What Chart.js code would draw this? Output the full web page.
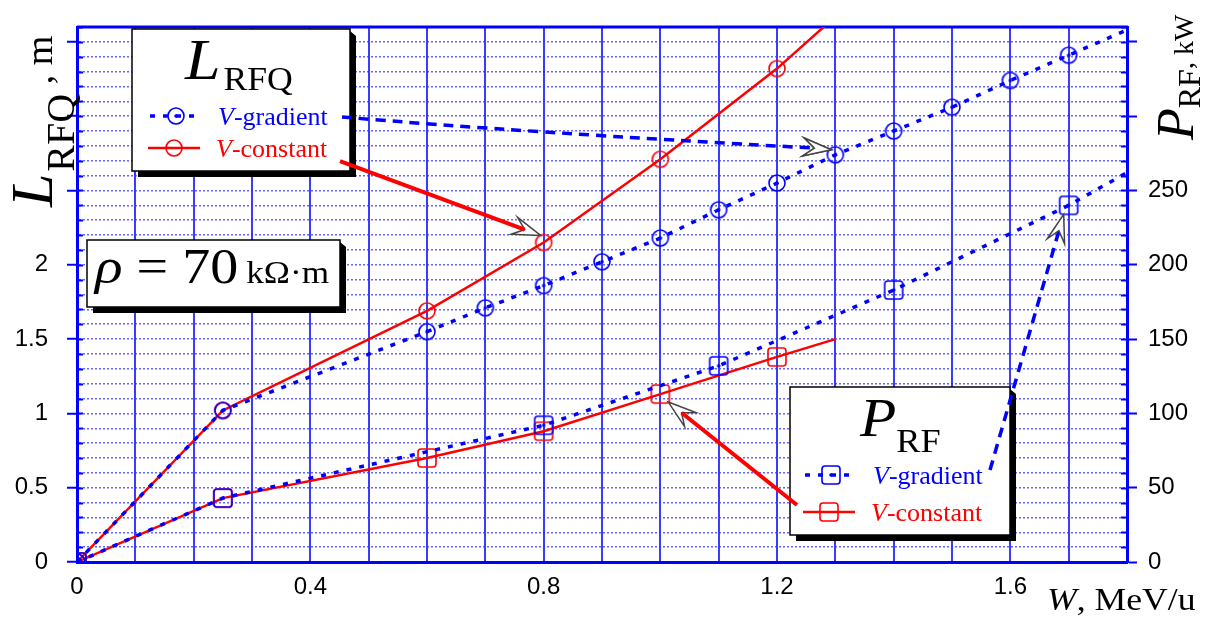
<!DOCTYPE html>
<html lang="en">
<head>
<meta charset="UTF-8">
<title>L_RFQ and P_RF vs W</title>
<script src="https://cdn.jsdelivr.net/npm/chart.js"></script>
<style>
  html, body { margin: 0; padding: 0; background: #fff; }
  #wrap { width: 1212px; height: 626px; position: relative; }
</style>
</head>
<body>
<div id="wrap"><canvas id="myChart"></canvas></div>
<script>
// W, MeV/u  ->  L_RFQ (m) and P_RF (kW)
// the last point of each series only carries the line on, it has no marker
const wLGrad  = [0, 0.25, 0.6, 0.7, 0.8, 0.9, 1.0, 1.1, 1.2, 1.3, 1.4, 1.5, 1.6, 1.7, 1.8];
const lGrad   = [0, 1.02, 1.55, 1.71, 1.86, 2.02, 2.18, 2.37, 2.55, 2.74, 2.90, 3.06, 3.24, 3.41, 3.58];
const wLConst = [0, 0.25, 0.6, 0.8, 1.0, 1.2, 1.3];
const lConst  = [0, 1.02, 1.69, 2.15, 2.71, 3.32, 3.67];
const wPGrad  = [0, 0.25, 0.8, 1.1, 1.4, 1.7, 1.8];
const pGrad   = [0, 43, 92, 132, 183, 240, 262];
const wPConst = [0, 0.25, 0.6, 0.8, 1.0, 1.2, 1.3];
const pConst  = [0, 43, 70, 88, 113, 138, 150];

// tick labels
const xTickVals  = [0, 0.4, 0.8, 1.2, 1.6];
const xTickText  = ['0', '0.4', '0.8', '1.2', '1.6'];
const yTickVals  = [0, 0.5, 1, 1.5, 2];
const yTickText  = ['0', '0.5', '1', '1.5', '2'];
const y2TickVals = [0, 50, 100, 150, 200, 250];
const y2TickText = ['0', '50', '100', '150', '200', '250'];

const BLUE = '#0000ff';
const RED = '#ff0000';
const SERIF = '"Liberation Serif", "Times New Roman", serif';
const SANS = '"Liberation Sans", Arial, sans-serif';

function pts(xs, ys) { return xs.map((x, i) => ({ x: x, y: ys[i] })); }
function radii(xs) { return xs.map((x, i) => i === xs.length - 1 ? 0 : 8); }
function near(list, v) { return list.findIndex(t => Math.abs(t - v) < 1e-6); }
function steps(max, step) {
    const out = [];
    for (let i = 0; i * step <= max + 1e-9; i++) out.push({ value: Math.round(i * step * 1000) / 1000 });
    return out;
}
// fixed axis sizes so the plot area sits where it does in the figure
function fixSize(prop, size) {
    return s => {
        s[prop] = size;
        s.paddingTop = 0; s.paddingBottom = 0; s.paddingLeft = 0; s.paddingRight = 0;
    };
}

// marker pictures: circle / square, with a centre dot for the V-gradient curves
function marker(shape, color, dot) {
    const c = document.createElement('canvas');
    c.width = 24; c.height = 24;
    const g = c.getContext('2d');
    g.strokeStyle = color;
    g.lineWidth = 1.6;
    g.beginPath();
    if (shape === 'circle') g.arc(12, 12, 8, 0, Math.PI * 2);
    else g.roundRect(3, 3, 18, 18, 3);
    g.stroke();
    if (dot) {
        g.fillStyle = color;
        g.beginPath(); g.arc(12, 12, 1.8, 0, Math.PI * 2); g.fill();
    }
    return c;
}
const mCircBlue = marker('circle', BLUE, true);
const mCircRed = marker('circle', RED, false);
const mSqBlue = marker('square', BLUE, true);
const mSqRed = marker('square', RED, false);

// text helper, returns the advance
function txt(ctx, s, x, y, font, color, sx) {
    sx = sx || 1;
    ctx.save();
    ctx.translate(x, y);
    ctx.scale(sx, 1);
    ctx.font = font;
    ctx.fillStyle = color;
    ctx.textBaseline = 'alphabetic';
    ctx.textAlign = 'left';
    ctx.fillText(s, 0, 0);
    const w = ctx.measureText(s).width * sx;
    ctx.restore();
    return w;
}

function box(ctx, x, y, w, h) {
    ctx.save();
    ctx.fillStyle = '#000';
    ctx.beginPath();
    ctx.moveTo(x + 6, y + h);
    ctx.lineTo(x + w, y + h);
    ctx.lineTo(x + w, y + 2);
    ctx.lineTo(x + w + 6, y + 7);
    ctx.lineTo(x + w + 6, y + h + 6);
    ctx.lineTo(x + 6, y + h + 6);
    ctx.closePath();
    ctx.fill();
    ctx.fillStyle = '#fff';
    ctx.fillRect(x, y, w, h);
    ctx.strokeStyle = '#000';
    ctx.lineWidth = 1.5;
    ctx.strokeRect(x, y, w, h);
    ctx.restore();
}

// open grey arrow head, tip at (tx,ty), pointing along ang; returns the notch point
function dart(ctx, tx, ty, ang) {
    const c = Math.cos(ang), s = Math.sin(ang);
    const p = (a, b) => [tx - a * c - b * s, ty - a * s + b * c];
    const w1 = p(28, 9), nn = p(17, 0), w2 = p(28, -9);
    ctx.save();
    ctx.beginPath();
    ctx.moveTo(tx, ty);
    ctx.lineTo(w1[0], w1[1]);
    ctx.lineTo(nn[0], nn[1]);
    ctx.lineTo(w2[0], w2[1]);
    ctx.closePath();
    ctx.fillStyle = '#fff';
    ctx.fill();
    ctx.strokeStyle = '#444';
    ctx.lineWidth = 1.5;
    ctx.stroke();
    ctx.restore();
    return nn;
}

function legendRow(ctx, x0, x1, y, color, dashed, img, label) {
    ctx.save();
    ctx.strokeStyle = color;
    if (dashed) { ctx.lineWidth = 3.5; ctx.setLineDash([5, 8]); }
    else { ctx.lineWidth = 2.5; }
    ctx.beginPath(); ctx.moveTo(x0, y); ctx.lineTo(x1, y); ctx.stroke();
    ctx.restore();
    ctx.drawImage(img, (x0 + x1) / 2 - 12, y - 12);
    let x = x1 + 16;
    x += txt(ctx, 'V', x, y + 9, 'italic 26px ' + SERIF, color);
    txt(ctx, label, x, y + 9, '26px ' + SERIF, color);
}

const decor = {
    id: 'decor',
    beforeDatasetsDraw(chart) {
        const { ctx, chartArea: a, scales } = chart;
        ctx.save();
        ctx.strokeStyle = BLUE;
        ctx.lineWidth = 2;
        // small inward ticks on both vertical axes
        scales.y.ticks.forEach(t => {
            const py = Math.round(scales.y.getPixelForValue(t.value)) + 0.5;
            ctx.beginPath(); ctx.moveTo(a.left, py); ctx.lineTo(a.left + 6, py); ctx.stroke();
            ctx.beginPath(); ctx.moveTo(a.right - 6, py); ctx.lineTo(a.right, py); ctx.stroke();
        });
        ctx.lineWidth = 3;
        ctx.beginPath(); ctx.moveTo(a.left, a.top); ctx.lineTo(a.right + 1, a.top); ctx.stroke();
        ctx.restore();
    },
    afterDatasetsDraw(chart) {
        const { ctx, scales } = chart;
        const sx = scales.x, sy = scales.y, sy2 = scales.y2;

        // L_RFQ legend
        box(ctx, 132, 29, 218, 142);
        let x = 185;
        x += txt(ctx, 'L', x, 79, 'italic 58px ' + SERIF, '#000', 1.1);
        txt(ctx, 'RFQ', x + 3, 90, '33px ' + SERIF, '#000', 1.08);
        legendRow(ctx, 150, 202, 116, BLUE, true, mCircBlue, '-gradient');
        legendRow(ctx, 148, 200, 148, RED, false, mCircRed, '-constant');

        // rho box
        box(ctx, 87, 240, 253, 67);
        x = 95;
        x += txt(ctx, 'ρ', x, 283, 'italic 50px ' + SERIF, '#000', 1.15);
        x += txt(ctx, ' = 70 ', x, 283, '50px ' + SERIF, '#000', 1.12);
        txt(ctx, 'kΩ·m', x - 6, 283, '32px ' + SERIF, '#000', 1.1);

        // P_RF legend
        box(ctx, 790, 387, 220, 148);
        x = 860;
        x += txt(ctx, 'P', x, 436, 'italic 54px ' + SERIF, '#000', 1.1);
        txt(ctx, 'RF', x, 452, '33px ' + SERIF, '#000', 1.1);
        legendRow(ctx, 805, 857, 475, BLUE, true, mSqBlue, '-gradient');
        legendRow(ctx, 803, 855, 512, RED, false, mSqRed, '-constant');

        // pointers from the legends to the curves
        let tx, ty, n;
        // L, V-gradient -> point at 1.3
        tx = sx.getPixelForValue(wLGrad[9]) - 4;
        ty = sy.getPixelForValue(lGrad[9]) - 5;
        n = dart(ctx, tx, ty, 0.1);
        ctx.save();
        ctx.strokeStyle = BLUE; ctx.lineWidth = 3.5; ctx.setLineDash([10, 7]);
        ctx.beginPath(); ctx.moveTo(342, 117); ctx.quadraticCurveTo(520, 132, n[0], n[1]); ctx.stroke();
        ctx.restore();
        dart(ctx, tx, ty, 0.1);
        // L, V-constant -> point at 0.8
        tx = sx.getPixelForValue(wLConst[3]) - 3;
        ty = sy.getPixelForValue(lConst[3]) - 7;
        n = dart(ctx, tx, ty, Math.atan2(ty - 161, tx - 340));
        ctx.save();
        ctx.strokeStyle = RED; ctx.lineWidth = 4;
        ctx.beginPath(); ctx.moveTo(340, 161); ctx.lineTo(n[0], n[1]); ctx.stroke();
        ctx.restore();
        // P, V-constant -> point at 1.0
        tx = sx.getPixelForValue(wPConst[4]) + 8;
        ty = sy2.getPixelForValue(pConst[4]) + 8;
        n = dart(ctx, tx, ty, Math.atan2(ty - 505, tx - 797));
        ctx.save();
        ctx.strokeStyle = RED; ctx.lineWidth = 4;
        ctx.beginPath(); ctx.moveTo(797, 505); ctx.lineTo(n[0], n[1]); ctx.stroke();
        ctx.restore();
        // P, V-gradient -> point at 1.7
        tx = sx.getPixelForValue(wPGrad[5]) - 5;
        ty = sy2.getPixelForValue(pGrad[5]) + 9;
        const angP = Math.atan2(ty - 470, tx - 990);
        const nn = [tx - 17 * Math.cos(angP), ty - 17 * Math.sin(angP)];
        ctx.save();
        ctx.strokeStyle = BLUE; ctx.lineWidth = 3.5; ctx.setLineDash([10, 7]);
        ctx.beginPath(); ctx.moveTo(990, 470); ctx.lineTo(nn[0], nn[1]); ctx.stroke();
        ctx.restore();
        dart(ctx, tx, ty, angP);
    },
    afterDraw(chart) {
        const ctx = chart.ctx;
        // left axis title, read bottom to top
        ctx.save();
        ctx.translate(52, 207);
        ctx.rotate(-Math.PI / 2);
        let x = 0;
        x += txt(ctx, 'L', x, 0, 'italic 60px ' + SERIF, '#000');
        x += txt(ctx, 'RFQ', x + 2, 22, '40px ' + SERIF, '#000');
        txt(ctx, ' , m', x + 2, 0, '38px ' + SERIF, '#000');
        ctx.restore();
        // right axis title
        ctx.save();
        ctx.translate(1193, 140);
        ctx.rotate(-Math.PI / 2);
        x = 0;
        x += txt(ctx, 'P', x, 0, 'italic 52px ' + SERIF, '#000');
        x += txt(ctx, 'RF', x, 7, '32px ' + SERIF, '#000');
        txt(ctx, ', kW', x, 0, '28px ' + SERIF, '#000');
        ctx.restore();
        // bottom axis title
        x = 1047;
        x += txt(ctx, 'W', x, 610, 'italic 31px ' + SERIF, '#000', 1.15);
        txt(ctx, ', MeV/u', x, 610, '31px ' + SERIF, '#000', 1.15);
    }
};

const ctx = document.getElementById('myChart').getContext('2d');
new Chart(ctx, {
    type: 'line',
    data: {
        datasets: [
            {
                label: 'L_RFQ, V-gradient', data: pts(wLGrad, lGrad), yAxisID: 'y',
                borderColor: BLUE, borderWidth: 3.5, borderDash: [5, 8],
                pointStyle: mCircBlue, pointRadius: radii(wLGrad)
            },
            {
                label: 'P_RF, V-gradient', data: pts(wPGrad, pGrad), yAxisID: 'y2',
                borderColor: BLUE, borderWidth: 3.5, borderDash: [5, 8],
                pointStyle: mSqBlue, pointRadius: radii(wPGrad)
            },
            {
                label: 'L_RFQ, V-constant', data: pts(wLConst, lConst), yAxisID: 'y',
                borderColor: RED, borderWidth: 2.5,
                pointStyle: mCircRed, pointRadius: radii(wLConst)
            },
            {
                label: 'P_RF, V-constant', data: pts(wPConst, pConst), yAxisID: 'y2',
                borderColor: RED, borderWidth: 2.5,
                pointStyle: mSqRed, pointRadius: radii(wPConst)
            }
        ]
    },
    options: {
        responsive: true,
        maintainAspectRatio: false,
        animation: false,
        events: [],
        layout: { padding: { top: 27, left: 0, right: 0, bottom: 0 } },
        datasets: { line: { tension: 0, fill: false, clip: 0 } },
        plugins: { legend: { display: false }, tooltip: { enabled: false } },
        scales: {
            x: {
                type: 'linear', min: 0, max: 1.8,
                afterBuildTicks: s => { s.ticks = steps(1.8, 0.1); },
                afterFit: fixSize('height', 64),
                ticks: {
                    autoSkip: false, maxRotation: 0, padding: 11, color: '#000',
                    font: { family: SANS, size: 24 },
                    callback: v => { const i = near(xTickVals, v); return i < 0 ? '' : xTickText[i]; }
                },
                grid: { color: '#3b3bff', lineWidth: 2, drawTicks: false },
                border: { color: BLUE, width: 3 }
            },
            y: {
                type: 'linear', position: 'left', min: 0, max: 3.6,
                afterBuildTicks: s => { s.ticks = steps(3.6, 0.1); },
                afterFit: fixSize('width', 77),
                ticks: {
                    autoSkip: false, padding: 19, color: '#000',
                    font: { family: SANS, size: 24 },
                    callback: v => { const i = near(yTickVals, v); return i < 0 ? '' : yTickText[i]; }
                },
                grid: {
                    color: 'rgba(50,50,255,0.75)', lineWidth: 1.5,
                    tickLength: 10, tickWidth: 2, tickBorderDash: [],
                    tickColor: c => (Math.abs(c.tick.value * 2 - Math.round(c.tick.value * 2)) < 1e-6 ? BLUE : 'rgba(0,0,0,0)')
                },
                border: { color: BLUE, width: 3, dash: [2, 2] }
            },
            y2: {
                type: 'linear', position: 'right', min: 0, max: 360,
                afterBuildTicks: s => { s.ticks = steps(360, 10); },
                afterFit: fixSize('width', 85),
                ticks: {
                    autoSkip: false, padding: 11, color: '#000',
                    font: { family: SANS, size: 24 },
                    callback: v => { const i = near(y2TickVals, v); return i < 0 ? '' : y2TickText[i]; }
                },
                grid: {
                    drawOnChartArea: false, tickLength: 10, tickWidth: 2,
                    tickColor: c => (c.tick.value % 50 === 0 ? BLUE : 'rgba(0,0,0,0)')
                },
                border: { color: BLUE, width: 3 }
            }
        }
    },
    plugins: [decor]
});
</script>
</body>
</html>
